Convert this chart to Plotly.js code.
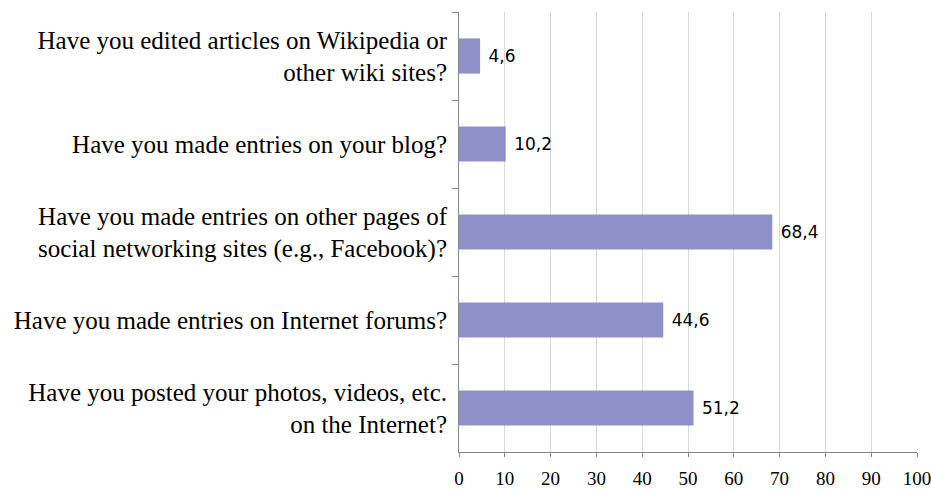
<!DOCTYPE html>
<html>
<head>
<meta charset="utf-8">
<script src="https://cdn.plot.ly/plotly-3.0.1.min.js"></script>
<style>html,body{margin:0;padding:0;background:#fff;}#chart{width:931px;height:491px;}</style>
</head>
<body>
<div id="chart"></div>
<script>
const categories = [
  "Have you edited articles on Wikipedia or<br>other wiki sites?",
  "Have you made entries on your blog?",
  "Have you made entries on other pages of<br>social networking sites (e.g., Facebook)?",
  "Have you made entries on Internet forums?",
  "Have you posted your photos, videos, etc.<br>on the Internet?"
];
const values = [4.6, 10.2, 68.4, 44.6, 51.2];
const xTicks = [0, 10, 20, 30, 40, 50, 60, 70, 80, 90, 100];

const SERIF = "Liberation Serif";

const trace = {
  type: "bar",
  orientation: "h",
  x: values,
  y: categories,
  marker: {color: "#8f90c7"},
  texttemplate: "\u00a0%{x:.1f}",
  textposition: "outside",
  cliponaxis: false,
  textfont: {family: "DejaVu Sans", size: 17, color: "#000"},
  hoverinfo: "none"
};

const layout = {
  width: 931, height: 491,
  margin: {l: 459, r: 14, t: 12, b: 39},
  font: {family: SERIF, size: 19, color: "#000"},
  separators: ",.",
  showlegend: false,
  plot_bgcolor: "#fff",
  paper_bgcolor: "#fff",
  bargap: 0.6,
  xaxis: {
    range: [0, 100],
    tickvals: xTicks,
    showgrid: true, gridcolor: "#d9d9d9", gridwidth: 1,
    showline: true, linecolor: "#868686", linewidth: 1,
    ticks: "outside", ticklen: 4, tickcolor: "#868686",
    zeroline: false,
    ticklabelstandoff: 5,
    ticklabeloverflow: "allow",
    tickfont: {family: SERIF, size: 19, color: "#000"},
    fixedrange: true
  },
  yaxis: {
    type: "category",
    autorange: "reversed",
    showline: true, linecolor: "#868686", linewidth: 1,
    ticks: "outside", ticklen: 6, tickcolor: "#868686",
    tickson: "boundaries",
    showgrid: false,
    ticklabelstandoff: 6,
    tickfont: {family: SERIF, size: 25, color: "#000"},
    fixedrange: true
  }
};

Plotly.newPlot("chart", [trace], layout, {displayModeBar: false, staticPlot: true});
</script>
</body>
</html>
